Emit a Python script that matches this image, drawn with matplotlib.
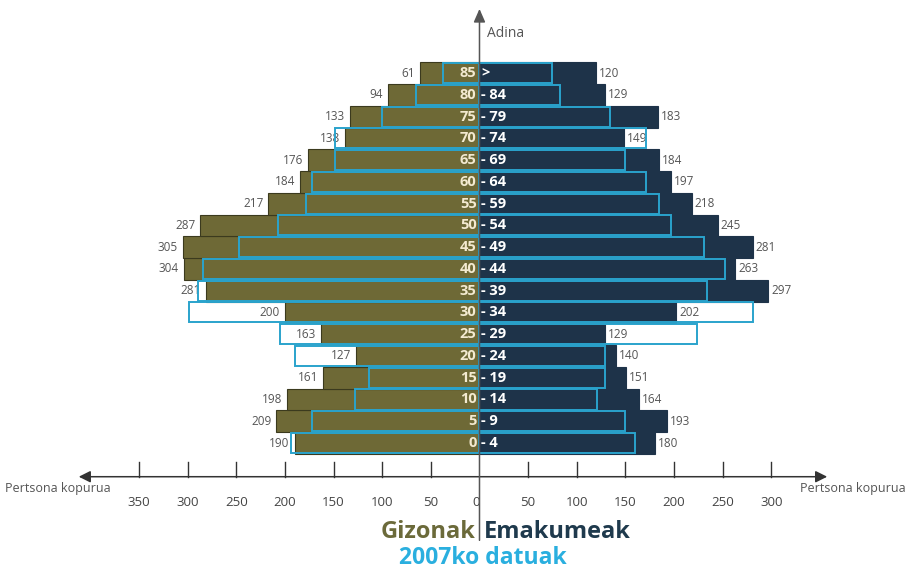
import numpy as np
import matplotlib.pyplot as plt
from matplotlib.patches import FancyArrowPatch

plt.rcParams['font.family'] = ['Open Sans', 'DejaVu Sans']

# age groups, bottom to top
age_lo = ['0', '5', '10', '15', '20', '25', '30', '35', '40', '45', '50', '55', '60', '65', '70', '75', '80', '85']
age_hi = ['4', '9', '14', '19', '24', '29', '34', '39', '44', '49', '54', '59', '64', '69', '74', '79', '84', '>']

men = [190, 209, 198, 161, 127, 163, 200, 281, 304, 305, 287, 217, 184, 176, 138, 133, 94, 61]
women = [180, 193, 164, 151, 140, 129, 202, 297, 263, 281, 245, 218, 197, 184, 149, 183, 129, 120]

# 2007 data (outlined bars, no labels)
men_2007 = [194, 172, 128, 114, 190, 205, 299, 289, 284, 247, 207, 178, 172, 148, 149, 100, 65, 38]
women_2007 = [160, 150, 121, 129, 129, 224, 281, 234, 252, 231, 197, 185, 171, 150, 171, 134, 83, 75]

left_ticks = [350, 300, 250, 200, 150, 100, 50, 0]
right_ticks = [50, 100, 150, 200, 250, 300]

olive = '#6e6936'
navy = '#1e3349'
teal = '#2aa3cc'
grey = '#555555'

fig = plt.figure(figsize=(9.08, 5.75), dpi=100)
ax = fig.add_axes([0, 0, 1, 1])
ax.set_xlim(-492.8, 440.4)
ax.set_ylim(-6.066, 20.36)
ax.axis('off')

y = np.arange(len(men))

# main bars
ax.barh(y, -np.array(men), height=1.0, color=olive, edgecolor='#3b3a1e', linewidth=0.8, zorder=2)
ax.barh(y, women, height=1.0, color=navy, edgecolor=navy, linewidth=0.8, zorder=2)

# value labels
for i in range(len(men)):
    ax.text(-men[i] - 5, y[i], str(men[i]), ha='right', va='center', fontsize=8.5, color=grey, zorder=3)
    ax.text(women[i] + 3, y[i], str(women[i]), ha='left', va='center', fontsize=8.5, color=grey, zorder=3)

# 2007 outlines
ax.barh(y, -np.array(men_2007), height=0.92, fill=False, edgecolor=teal, linewidth=1.4, zorder=4)
ax.barh(y, women_2007, height=0.92, fill=False, edgecolor=teal, linewidth=1.4, zorder=4)

# age labels
for i in range(len(men)):
    ax.text(-3, y[i], age_lo[i], ha='right', va='center', fontsize=10.5, fontweight='bold', color='#f3ead0', zorder=5)
    sep = '>' if age_hi[i] == '>' else '- ' + age_hi[i]
    ax.text(2, y[i], sep, ha='left', va='center', fontsize=10.5, fontweight='bold', color='white', zorder=5)

# horizontal axis with arrows
ax.add_patch(FancyArrowPatch((-414.7, -1.549), (360.2, -1.549), arrowstyle='<|-|>,head_length=7,head_width=3.5',
                             color='#333333', lw=1.1, zorder=6, mutation_scale=1))
for t in left_ticks[:-1]:
    ax.plot([-t, -t], [-0.87, -1.549], color='#333333', lw=1.0, zorder=6)
    ax.text(-t, -2.757, str(t), ha='center', va='center', fontsize=9.5, color='#444444')
ax.text(-3, -2.757, '0', ha='center', va='center', fontsize=9.5, color='#444444')
for t in right_ticks:
    ax.plot([t, t], [-0.87, -1.549], color='#333333', lw=1.0, zorder=6)
    ax.text(t, -2.757, str(t), ha='center', va='center', fontsize=9.5, color='#444444')

ax.text(-487.5, -2.07, 'Pertsona kopurua', ha='left', va='center', fontsize=9, color=grey)
ax.text(438, -2.07, 'Pertsona kopurua', ha='right', va='center', fontsize=9, color=grey)

# vertical axis
ax.add_patch(FancyArrowPatch((0, -4.6), (0, 20.08), arrowstyle='-|>,head_length=8,head_width=3.5',
                             color=grey, lw=1.1, zorder=6, mutation_scale=1))
ax.text(8, 18.84, 'Adina', ha='left', va='center', fontsize=10, color=grey)

# legend text
ax.text(-4, -4.09, 'Gizonak', ha='right', va='center', fontsize=17, fontweight='bold', color='#6b6a3a')
ax.text(5, -4.09, 'Emakumeak', ha='left', va='center', fontsize=17, fontweight='bold', color='#1f3a4d')
ax.text(3, -5.285, '2007ko datuak', ha='center', va='center', fontsize=16.5, fontweight='bold', color='#2aafdf')

fig.savefig('out.png', dpi=100)
